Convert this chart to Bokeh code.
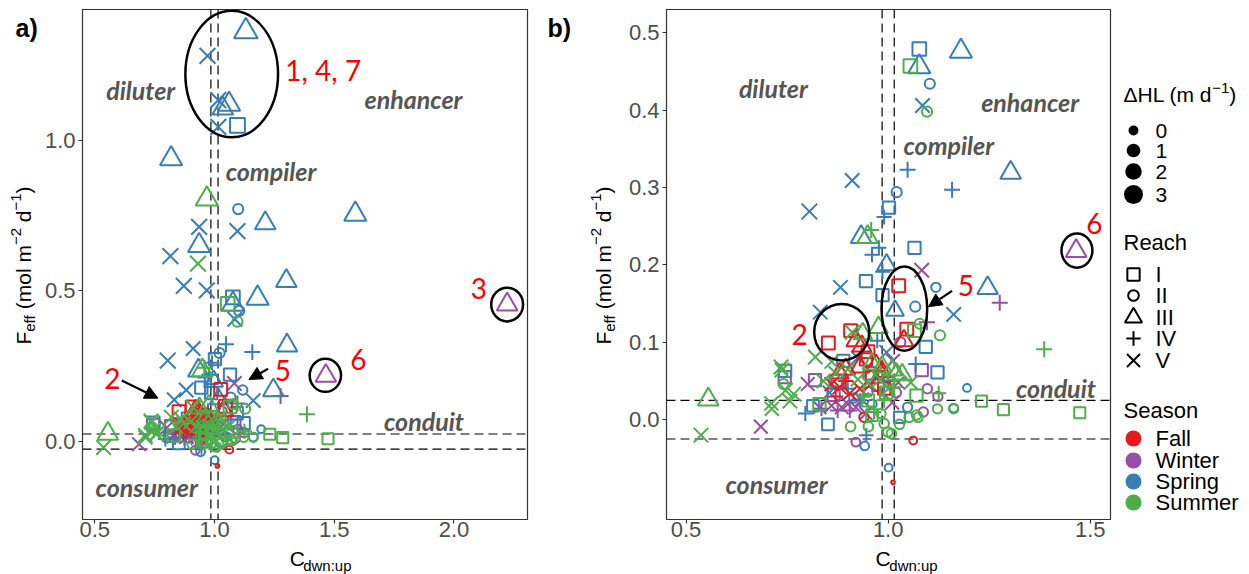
import math
from bokeh.plotting import figure
from bokeh.layouts import row, column
from bokeh.models import (ColumnDataSource, Range1d, FixedTicker, NumeralTickFormatter,
                          Arrow, NormalHead, Span)
from bokeh.core.properties import value
from bokeh.embed import file_html
from bokeh.resources import INLINE

# ---------------- data: (C_dwn:up, F_eff, reach, dHL) ----------------
spring = [
    (1.131, 1.362, "III", 3.0), (0.971, 1.281, "V", 2.0), (1.016, 1.134, "V", 2.0),
    (1.061, 1.120, "III", 2.5), (1.035, 1.106, "III", 2.0), (1.016, 1.045, "V", 2.0),
    (1.096, 1.050, "I", 2.0), (0.819, 0.939, "III", 2.5), (1.099, 0.772, "II", 0.8),
    (1.588, 0.755, "III", 2.5), (0.936, 0.713, "V", 2.0), (1.212, 0.725, "III", 2.0),
    (1.096, 0.699, "V", 2.0), (0.936, 0.651, "III", 2.5), (0.816, 0.616, "V", 2.0),
    (0.872, 0.517, "V", 2.0), (0.968, 0.502, "V", 2.0), (1.300, 0.533, "III", 2.0),
    (1.077, 0.479, "I", 1.5), (1.180, 0.476, "III", 2.5), (1.077, 0.456, "III", 2.5),
    (1.103, 0.434, "II", 0.8), (1.085, 0.406, "V", 1.5), (1.048, 0.323, "IV", 1.5),
    (1.303, 0.319, "III", 2.0), (0.911, 0.309, "V", 1.5), (1.021, 0.294, "II", 0.8),
    (1.158, 0.297, "IV", 1.5), (0.805, 0.269, "V", 2.0), (1.002, 0.274, "I", 1.0),
    (0.990, 0.262, "IV", 1.2), (0.933, 0.236, "III", 2.0), (0.977, 0.222, "IV", 1.2),
    (1.065, 0.222, "I", 1.0), (0.960, 0.213, "IV", 1.2), (0.996, 0.200, "III", 1.5),
    (0.986, 0.191, "IV", 1.2), (0.945, 0.179, "I", 1.0), (0.882, 0.171, "V", 1.5),
    (1.118, 0.171, "II", 0.5), (1.246, 0.170, "III", 2.0), (0.986, 0.161, "I", 1.0),
    (1.162, 0.136, "V", 1.5), (0.832, 0.139, "V", 1.5), (1.017, 0.141, "III", 1.2),
    (1.067, 0.146, "II", 0.8), (0.973, 0.102, "IV", 1.2), (1.093, 0.094, "I", 1.0),
    (0.996, 0.087, "V", 1.5), (0.889, 0.076, "I", 1.0), (1.068, 0.072, "IV", 1.2),
    (1.122, 0.061, "I", 1.0), (0.745, 0.063, "I", 1.0), (0.795, 0.008, "IV", 1.2),
    (0.814, 0.018, "I", 0.8), (0.851, -0.006, "I", 0.8), (0.946, -0.020, "IV", 1.0),
    (0.942, -0.034, "II", 0.3), (1.001, -0.062, "II", 0.0), (1.195, 0.041, "II", 0.0),
    (1.162, 0.015, "II", 0.3), (1.048, 0.016, "II", 0.5), (1.028, 0.003, "I", 0.6),
    (0.900, 0.040, "IV", 1.0), (0.930, 0.025, "IV", 1.0), (0.955, 0.060, "I", 1.0),
    (0.875, 0.050, "I", 1.0), (0.915, 0.028, "II", 0.5), (1.000, 0.050, "IV", 1.0),
    (0.960, 0.020, "II", 0.5), (0.925, 0.080, "V", 1.2), (0.855, 0.035, "V", 1.2),
]
summer = [
    (0.968, 0.805, "III", 2.5), (0.931, 0.591, "V", 2.0), (1.055, 0.457, "I", 1.5),
    (1.096, 0.398, "II", 0.8), (0.958, 0.245, "IV", 1.5), (0.949, 0.236, "III", 2.0),
    (1.065, 0.115, "I", 1.2), (1.078, 0.124, "II", 0.8), (1.128, 0.109, "II", 0.8),
    (0.911, 0.113, "V", 1.5), (0.937, 0.111, "III", 1.5), (0.976, 0.119, "III", 1.5),
    (1.386, 0.091, "IV", 1.5), (0.820, 0.081, "V", 1.5), (0.735, 0.068, "V", 1.5),
    (0.737, 0.064, "V", 1.5), (0.741, 0.046, "II", 0.8), (0.746, 0.038, "V", 1.5),
    (0.766, 0.033, "V", 1.5), (0.757, 0.024, "V", 1.5), (0.711, 0.021, "V", 1.3),
    (0.712, 0.014, "V", 1.3), (0.555, 0.026, "III", 2.0), (0.537, -0.020, "V", 1.5),
    (1.231, 0.024, "I", 0.6), (1.285, 0.013, "I", 0.6), (1.474, 0.009, "I", 0.6),
    (1.162, 0.014, "II", 0.5), (1.122, 0.014, "II", 0.5), (1.125, 0.034, "IV", 1.2),
    (1.056, 0.048, "V", 1.3), (1.070, 0.031, "I", 1.0), (1.020, 0.059, "III", 1.5),
    (1.010, 0.064, "III", 1.5), (0.985, 0.068, "III", 1.5), (0.907, -0.009, "II", 0.6),
    (0.951, -0.009, "II", 0.6), (0.982, 0.008, "II", 0.6), (0.990, -0.005, "II", 0.6),
    (0.999, -0.016, "II", 0.6), (1.008, -0.018, "II", 0.6), (1.028, -0.006, "II", 0.6),
    (1.052, 0.003, "II", 0.6), (1.070, 0.006, "II", 0.6), (1.074, 0.003, "II", 0.6),
    (0.870, 0.060, "V", 1.3), (0.840, 0.050, "V", 1.3), (0.860, 0.075, "V", 1.3),
    (0.900, 0.065, "V", 1.3), (0.925, 0.052, "V", 1.3), (0.950, 0.048, "V", 1.3),
    (1.000, 0.040, "V", 1.3), (0.980, 0.052, "V", 1.3), (0.940, 0.030, "IV", 1.2),
    (0.990, 0.025, "IV", 1.2), (1.015, 0.042, "IV", 1.2), (0.965, 0.010, "IV", 1.2),
    (0.830, 0.020, "I", 1.0), (0.950, 0.025, "I", 1.0), (0.995, 0.035, "I", 1.0),
    (1.035, 0.058, "III", 1.5), (0.960, 0.072, "III", 1.5), (0.960, 0.006, "I", 0.8),
]
winter = [
    (2.222, 0.455, "III", 2.0), (1.465, 0.218, "III", 2.0), (1.083, 0.193, "V", 1.5),
    (1.276, 0.151, "IV", 1.5), (1.096, 0.126, "IV", 1.5), (1.030, 0.100, "II", 0.8),
    (1.012, 0.076, "V", 1.2), (1.083, 0.064, "I", 1.0), (0.744, 0.055, "I", 1.0),
    (0.819, 0.051, "I", 1.0), (0.801, 0.046, "V", 1.2), (0.685, -0.009, "V", 1.2),
    (1.087, 0.010, "II", 0.5), (1.123, 0.030, "II", 0.5), (1.097, 0.040, "II", 0.5),
    (0.920, -0.029, "II", 0.3), (0.830, 0.016, "V", 1.2), (0.835, 0.014, "IV", 1.2),
    (0.860, 0.018, "V", 1.2), (0.875, 0.012, "IV", 1.2), (0.885, 0.016, "V", 1.2),
    (0.900, 0.020, "V", 1.2), (0.905, 0.012, "IV", 1.2), (0.920, 0.016, "V", 1.2),
    (0.935, 0.026, "V", 1.2), (0.865, 0.032, "I", 1.0), (0.870, 0.050, "I", 1.0),
    (0.950, 0.036, "II", 0.6), (1.020, 0.035, "II", 0.6), (1.010, 0.022, "V", 1.2),
    (1.025, 0.048, "V", 1.2), (0.975, 0.045, "I", 1.0), (0.945, 0.008, "V", 1.0),
]
fall = [
    (1.026, 0.173, "I", 1.2), (1.046, 0.117, "I", 1.2), (1.039, 0.102, "III", 1.5),
    (0.907, 0.115, "I", 1.2), (0.852, 0.099, "I", 1.2), (0.920, 0.102, "III", 1.5),
    (0.935, 0.095, "III", 1.5), (0.950, 0.088, "I", 1.2), (0.945, 0.078, "I", 1.0),
    (0.895, 0.065, "III", 1.5), (0.930, 0.068, "III", 1.5), (0.970, 0.070, "III", 1.5),
    (0.985, 0.062, "III", 1.3), (0.880, 0.060, "III", 1.3), (0.960, 0.055, "I", 1.0),
    (0.880, 0.042, "V", 1.3), (0.905, 0.034, "V", 1.3), (0.860, 0.046, "V", 1.3),
    (0.930, 0.040, "V", 1.3), (0.955, 0.045, "V", 1.3), (0.895, 0.050, "IV", 1.2),
    (0.870, 0.030, "IV", 1.2), (0.990, 0.040, "I", 1.0), (0.940, 0.003, "II", 0.5),
    (1.062, -0.027, "II", 0.0), (1.012, -0.081, "II", -0.9),
]

season_names = ["Fall", "Winter", "Spring", "Summer"]
season_colors = ["#E41A1C", "#984EA3", "#377EB8", "#4DAF4A"]
draw_order = [("Winter", winter), ("Spring", spring), ("Fall", fall), ("Summer", summer)]
reach_names = ["I", "II", "III", "IV", "V"]
reach_markers = ["square", "circle", "triangle", "cross", "x"]
reach_scale = [0.9, 0.78, 1.25, 1.05, 1.35]
dhl_breaks = [0, 1, 2, 3]

thr_x = [0.985, 1.015]
thr_y = [-0.025, 0.025]

region_labels = ["diluter", "enhancer", "compiler", "conduit", "consumer"]
a_region_x = [0.692, 1.831, 1.236, 1.875, 0.717]
a_region_y = [1.167, 1.139, 0.900, 0.069, -0.152]
b_region_x = [0.716, 1.351, 1.150, 1.415, 0.724]
b_region_y = [0.429, 0.411, 0.355, 0.041, -0.083]

a_num_text = ["1, 4, 7", "3", "6", "5", "2"]
a_num_x = [1.296, 2.070, 1.567, 1.252, 0.540]
a_num_y = [1.234, 0.508, 0.272, 0.236, 0.209]
b_num_text = ["2", "5", "6"]
b_num_x = [0.761, 1.172, 1.490]
b_num_y = [0.110, 0.174, 0.254]

a_ell_x = [1.072, 2.222, 1.463]
a_ell_y = [1.2205, 0.455, 0.220]
a_ell_w = [0.387, 0.133, 0.131]
a_ell_h = [0.420, 0.112, 0.110]
b_ell_x = [0.885, 1.040, 1.467]
b_ell_y = [0.113, 0.1435, 0.2185]
b_ell_w = [0.136, 0.113, 0.0766]
b_ell_h = [0.073, 0.109, 0.0443]

a_arrows = [(0.613, 0.203, 0.764, 0.144), (1.224, 0.242, 1.144, 0.206)]
b_arrows = [(1.158, 0.1665, 1.100, 0.146)]

# ---------------- helpers ----------------
color_of = dict(zip(season_names, season_colors))
marker_of = dict(zip(reach_names, reach_markers))
scale_of = dict(zip(reach_names, reach_scale))
FONT = "Liberation Sans"


def base_size(d):
    return math.sqrt(max(16.0, 100.0 + 87.0 * d))


def build(xmax=None, ymax=None):
    cols = dict(x=[], y=[], marker=[], color=[], size=[])
    for season, pts in draw_order:
        for (x, y, r, d) in pts:
            if xmax is not None and (x > xmax or y > ymax):
                continue
            cols["x"].append(x)
            cols["y"].append(y)
            cols["marker"].append(marker_of[r])
            cols["color"].append(color_of[season])
            cols["size"].append(base_size(d) * scale_of[r])
    return ColumnDataSource(cols)


AW = {"F": .611, "e": .556, "f": .278, " ": .278, "(": .333, "m": .833, "o": .556,
      "l": .222, "\u2212": .584, "2": .556, "d": .556, "1": .556, ")": .333,
      "C": .722, "w": .722, "n": .556, ":": .278, "u": .556, "p": .556,
      "\u0394": .668, "H": .722, "L": .556}


def tw(s, fs):
    return sum(AW.get(c, 0.556) for c in s) * fs


def blank(width, height):
    f = figure(width=width, height=height, x_range=Range1d(0, width),
               y_range=Range1d(height, 0), output_backend="svg", toolbar_location=None,
               x_axis_location=None, y_axis_location=None, min_border=0)
    f.outline_line_color = None
    f.xgrid.visible = False
    f.ygrid.visible = False
    f.background_fill_color = "white"
    f.border_fill_color = "white"
    return f


def put(f, x, y, t, fs, angle=0.0, style="normal"):
    f.text(x=[x], y=[y], text=[t], angle=angle, text_font=value(FONT),
           text_font_size=f"{fs}px", text_font_style=style, text_color="black",
           text_baseline="middle", text_align="left")


# (text, font px, offset of the text's middle from the main line's middle; None = gap)
y_title = [("F", 21, 0), ("eff", 15, 6), (" ", 21, None), ("(mol m", 21, 0),
           ("\u22122", 15, -8), (" ", 21, None), ("d", 21, 0), ("\u22121", 15, -8), (")", 21, 0)]
x_title = [("C", 21, 0), ("dwn:up", 15, 7)]


def ytitle_fig(width, tag, tag_x, mid_x):
    f = blank(width, 574)
    put(f, tag_x, 27, tag, 25, style="bold")
    total = sum(tw(t, fs) for t, fs, sh in y_title)
    yy = 265 + total / 2
    for t, fs, sh in y_title:
        if sh is not None:
            put(f, mid_x + sh, yy, t, fs, angle=math.pi / 2)
        yy -= tw(t, fs)
    return f


def xtitle_fig(width, center_x, mid_y, height):
    f = blank(width, height)
    total = sum(tw(t, fs) for t, fs, sh in x_title)
    xx = center_x - total / 2
    for t, fs, sh in x_title:
        put(f, xx, mid_y + sh, t, fs)
        xx += tw(t, fs)
    return f


def make_panel(width, height, left, right, xr, yr, xticks, yticks):
    p = figure(width=width, height=height, x_range=Range1d(*xr), y_range=Range1d(*yr),
               output_backend="svg", toolbar_location=None,
               min_border_left=left, min_border_right=right,
               min_border_top=9, min_border_bottom=height - 519)
    p.xgrid.visible = False
    p.ygrid.visible = False
    p.outline_line_color = "#333333"
    p.outline_line_width = 1.2
    p.background_fill_color = "white"
    p.border_fill_color = "white"
    for ax in (p.xaxis[0], p.yaxis[0]):
        ax.axis_line_color = None
        ax.major_tick_line_color = "#333333"
        ax.major_tick_line_width = 1.2
        ax.major_tick_out = 4
        ax.major_tick_in = 0
        ax.minor_tick_line_color = None
        ax.major_label_text_font = FONT
        ax.major_label_text_font_size = "22px"
        ax.major_label_text_color = "#4D4D4D"
        ax.formatter = NumeralTickFormatter(format="0.0")
    p.xaxis[0].major_label_standoff = -2
    p.yaxis[0].major_label_standoff = 3
    p.xaxis[0].ticker = FixedTicker(ticks=xticks)
    p.yaxis[0].ticker = FixedTicker(ticks=yticks)
    for v in thr_x:
        p.add_layout(Span(location=v, dimension="height", line_color="black",
                          line_width=1.2, line_dash="9 5", level="underlay"))
    for v in thr_y:
        p.add_layout(Span(location=v, dimension="width", line_color="black",
                          line_width=1.2, line_dash="9 5", level="underlay"))
    return p


def decorate(p, src, rx, ry, ntext, nx, ny, ex, ey, ew, eh, arrows):
    p.text(x=rx, y=ry, text=region_labels, text_font=value("Lato"),
           text_font_style="bold italic", text_font_size="25px", text_color="#555555",
           text_align="center", text_baseline="middle")
    p.scatter(x="x", y="y", marker="marker", size="size", line_color="color",
              fill_color=None, line_width=2.0, source=src)
    p.ellipse(x=ex, y=ey, width=ew, height=eh, fill_color=None, line_color="black",
              line_width=2.5)
    p.text(x=nx, y=ny, text=ntext, text_font=value("Lato"), text_font_size="28px",
           text_color="#FF0000", text_align="left", text_baseline="middle")
    for (x0, y0, x1, y1) in arrows:
        p.add_layout(Arrow(end=NormalHead(size=13, fill_color="black", line_color="black"),
                           x_start=x0, y_start=y0, x_end=x1, y_end=y1,
                           line_width=2.2, line_color="black"))


PH = 546          # panel figure height; x-title strip below it
XH = 574 - PH

ya = ytitle_fig(40, "a)", 15, 23)
pa = make_panel(500, PH, 42, 13, (0.449, 2.307), (-0.259, 1.435),
                [0.5, 1.0, 1.5, 2.0], [0.0, 0.5, 1.0])
decorate(pa, build(), a_region_x, a_region_y, a_num_text, a_num_x, a_num_y,
         a_ell_x, a_ell_y, a_ell_w, a_ell_h, a_arrows)
xa = xtitle_fig(500, 42 + 445 / 2, 558 - PH, XH)

yb = ytitle_fig(85, "b)", 7, 63)
pb = make_panel(490, PH, 40, 5, (0.4516, 1.550), (-0.129, 0.530),
                [0.5, 1.0, 1.5], [0.0, 0.1, 0.2, 0.3, 0.4, 0.5])
decorate(pb, build(1.55, 0.5), b_region_x, b_region_y, b_num_text, b_num_x, b_num_y,
         b_ell_x, b_ell_y, b_ell_w, b_ell_h, b_arrows)
xb = xtitle_fig(490, 40 + 445 / 2, 558 - PH, XH)

# ---------------- legend panel ----------------
pl = blank(134, 574)
lx_title, lx_key, lx_lab = 8, 18, 40
size_rows = [130, 150, 171, 194]
reach_rows = [274, 295, 317, 338, 360]
season_rows = [438, 460, 481, 502]

t1 = "\u0394HL (m d"
put(pl, lx_title, 94, t1, 21)
put(pl, lx_title + tw(t1, 21), 87, "\u22121", 15)
put(pl, lx_title + tw(t1, 21) + tw("\u22121", 15), 94, ")", 21)
pl.circle(x=[lx_key] * 4, y=size_rows, radius=[base_size(d) / 2 for d in dhl_breaks],
          radius_units="screen", fill_color="black", line_color=None)
pl.text(x=[lx_lab] * 4, y=size_rows, text=[str(d) for d in dhl_breaks],
        text_font=value(FONT), text_font_size="21px", text_color="black",
        text_baseline="middle")

put(pl, lx_title, 242, "Reach", 22)
pl.scatter(x=[lx_key] * 5, y=reach_rows, marker=reach_markers,
           size=[base_size(1.0) * s for s in reach_scale], line_color="black",
           fill_color=None, line_width=2.0)
pl.text(x=[lx_lab] * 5, y=reach_rows, text=reach_names, text_font=value(FONT),
        text_font_size="22px", text_color="black", text_baseline="middle")

put(pl, lx_title, 410, "Season", 22)
pl.circle(x=[lx_key] * 4, y=season_rows, radius=8, radius_units="screen",
          fill_color=season_colors, line_color=None)
pl.text(x=[lx_lab] * 4, y=season_rows, text=season_names, text_font=value(FONT),
        text_font_size="22px", text_color="black", text_baseline="middle")

layout = row(ya, column(pa, xa), yb, column(pb, xb), pl)
open("out.html", "w").write(file_html(layout, INLINE))
